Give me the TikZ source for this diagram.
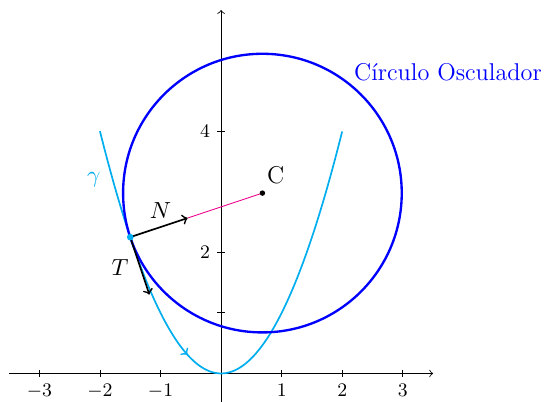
\documentclass[tikz,border=0pt]{standalone}
\usetikzlibrary{decorations.markings,calc}
\definecolor{gcyan}{RGB}{0,174,239}
\definecolor{gmag}{RGB}{236,0,140}
\begin{document}
\begin{tikzpicture}[
  tick/.style={font=\fontsize{9.5}{11}\selectfont},
  lab/.style={font=\fontsize{11.4}{13}\selectfont},
  vec/.style={->,thick,black},
  curve/.style={gcyan,thick},
  osc/.style={blue,line width=1.1pt}]
\useasboundingbox (-3.65,-0.463) rectangle (5.38,6.165);
% axes
\draw[->] (-3.5,0) -- (3.5,0);
\draw[->] (0,-0.5) -- (0,6);
\foreach \x in {-3,-2,-1,1,2,3}
  \draw (\x,0.06) -- (\x,-0.06) node[below,tick]{$\x$};
\draw (-0.06,1) -- (0.06,1);
\foreach \y in {2,4}
  \draw (0.06,\y) -- (-0.06,\y) node[left,tick]{$\y$};
% curve
\draw[curve,postaction={decorate},
  decoration={markings,mark=at position 0.43 with {\arrow{>}}}]
  plot[domain=-2:2,samples=120] (\x,{\x*\x});
\node[gcyan,lab] (gam) at (-2.1,3.2) {$\gamma$};
% points
\coordinate (P) at (-1.5,2.25);
\coordinate (C) at ($(P)+2.3*(0.9487,0.3162)$);
\coordinate (Nend) at ($(P)+(0.9487,0.3162)$);
\coordinate (Tend) at ($(P)+(0.3162,-0.9487)$);
% osculating circle
\draw[osc] (C) circle (2.3);
\node[blue,lab] (lbl) at (3.745,4.975) {Círculo Osculador};
% normal line
\draw[gmag] (Nend) -- (C);
\draw[vec] (P) -- (Nend);
\draw[vec] (P) -- (Tend);
\node[lab] (Nl) at (-1.0,2.69) {$N$};
\node[lab] (Tl) at (-1.67,1.75) {$T$};
\fill[gcyan] (P) circle (0.055);
\fill[black] (C) circle (0.045);
\node[lab] (Cl) at ($(C)+(0.22,0.29)$) {C};
\end{tikzpicture}
\end{document}
